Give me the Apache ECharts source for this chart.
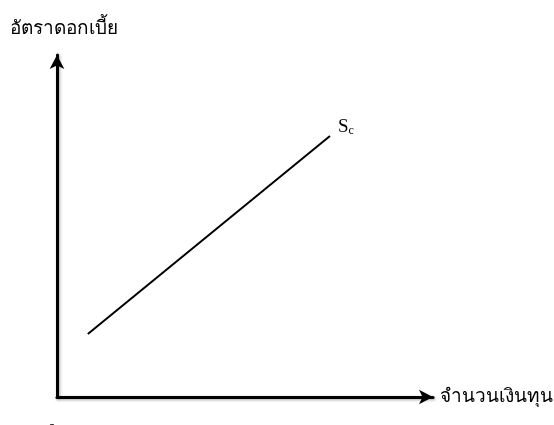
<!DOCTYPE html>
<html>
<head>
<meta charset="utf-8">
<script src="https://cdn.jsdelivr.net/npm/echarts@6/dist/echarts.min.js"></script>
<style>
  html, body { margin: 0; padding: 0; background: #fff; }
  #chart { width: 554px; height: 425px; }
</style>
</head>
<body>
<div id="chart"></div>
<script>
// supply curve Sc (0-100 scale on both axes)
const capital = [8.2, 72.6];
const rate = [18.4, 76.3];
const yTitle = 'อัตราดอกเบี้ย';
const xTitle = 'จำนวนเงินทุน';
const curveName = 'Sc';

const chart = echarts.init(document.getElementById('chart'));

const axisLineStyle = {
  color: '#000',
  width: 3,
  shadowColor: 'rgba(0,0,0,0.35)',
  shadowBlur: 3,
  shadowOffsetX: 1,
  shadowOffsetY: 1,
};

const option = {
  animation: false,
  grid: {
    left: 57,
    right: 121,
    top: 55,
    bottom: 28,
    containLabel: false,
    outerBoundsMode: 'none',
  },
  xAxis: {
    type: 'value',
    min: 0,
    max: 100,
    name: xTitle,
    nameLocation: 'end',
    nameGap: 7,
    nameTextStyle: {
      color: '#000',
      fontSize: 19,
      fontFamily: 'serif',
      verticalAlign: 'middle',
    },
    axisLine: {
      show: true,
      symbol: ['none', 'arrow'],
      symbolSize: [11, 14],
      lineStyle: axisLineStyle,
    },
    axisTick: { show: false },
    splitLine: { show: false },
    axisLabel: {
      color: '#000',
      fontSize: 17,
      fontFamily: 'Liberation Serif',
      margin: 25,
      padding: [0, 10, 0, 0],
      formatter: (v) => (v === 0 ? '0' : ''),
    },
  },
  yAxis: {
    type: 'value',
    min: 0,
    max: 100,
    name: yTitle,
    nameLocation: 'end',
    nameGap: 16,
    nameTextStyle: {
      color: '#000',
      fontSize: 19,
      fontFamily: 'serif',
      align: 'center',
      padding: [0, 0, 0, 14],
    },
    axisLine: {
      show: true,
      symbol: ['none', 'arrow'],
      symbolSize: [11, 14],
      lineStyle: axisLineStyle,
    },
    axisTick: { show: false },
    splitLine: { show: false },
    axisLabel: { show: false },
  },
  series: [
    {
      type: 'line',
      name: curveName,
      data: capital.map((x, i) => [x, rate[i]]),
      symbol: 'none',
      lineStyle: { color: '#000', width: 2 },
      endLabel: {
        show: true,
        distance: 8,
        offset: [0, -9],
        formatter: '{s|S}{c|c}',
        rich: {
          s: { fontSize: 19, fontFamily: 'Liberation Serif', color: '#000' },
          c: { fontSize: 12, fontFamily: 'Liberation Serif', color: '#000', verticalAlign: 'bottom', padding: [8, 0, 0, 0] },
        },
      },
    },
  ],
};

chart.setOption(option);
</script>
</body>
</html>
